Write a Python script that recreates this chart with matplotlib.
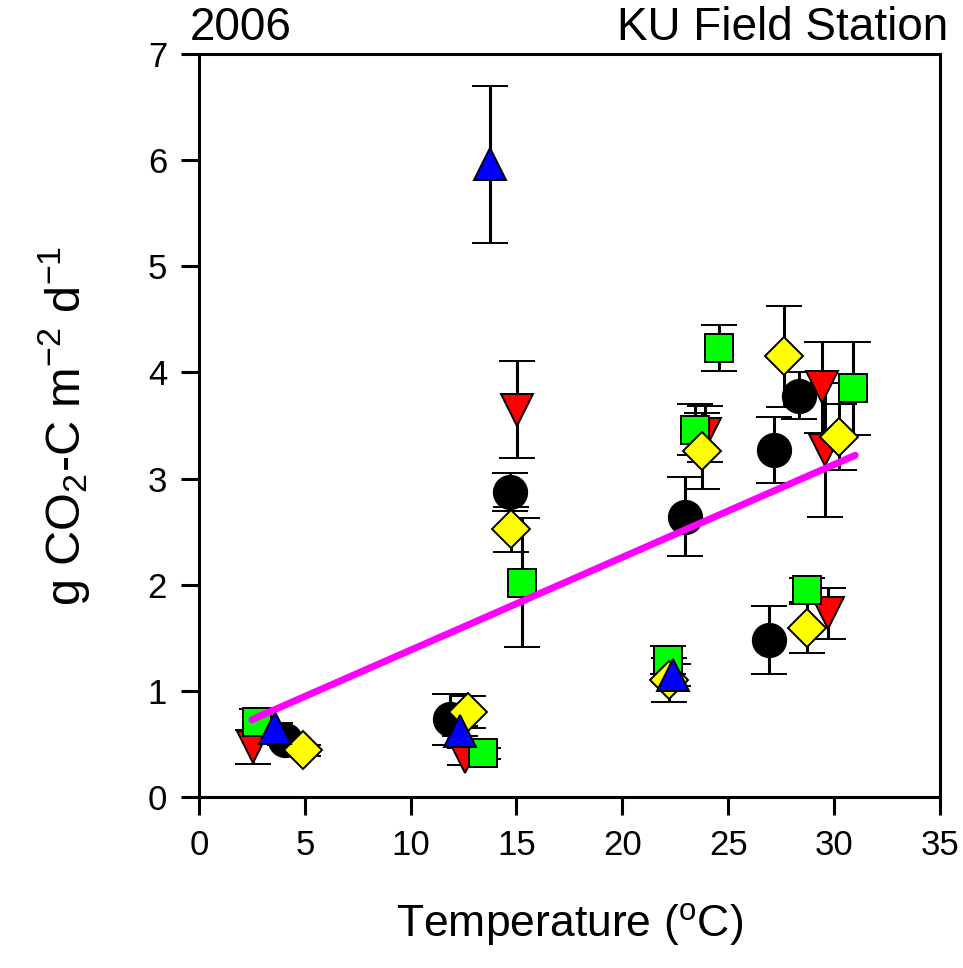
import matplotlib
matplotlib.use('Agg')
import matplotlib.pyplot as plt
import numpy as np

plt.rcParams['font.family'] = ['Liberation Sans', 'DejaVu Sans']
plt.rcParams['mathtext.fontset'] = 'custom'
plt.rcParams['mathtext.rm'] = 'Liberation Sans'
plt.rcParams['mathtext.it'] = 'Liberation Sans:italic'

# soil respiration vs temperature, one series per treatment
black_t = [4.06, 11.86, 14.69, 22.96, 26.93, 27.16, 28.34]
black_f = [0.54, 0.73, 2.87, 2.64, 1.48, 3.27, 3.78]
black_e = [0.05, 0.24, 0.18, 0.37, 0.32, 0.31, 0.22]

red_t = [2.55, 12.56, 15.04, 23.9, 29.45, 29.55, 29.72]
red_f = [0.47, 0.38, 3.65, 3.42, 3.86, 3.27, 1.73]
red_e = [0.16, 0.08, 0.46, 0.26, 0.43, 0.63, 0.24]

green_t = [2.73, 13.42, 15.26, 22.16, 23.43, 24.56, 28.70, 30.88]
green_f = [0.71, 0.41, 2.02, 1.29, 3.46, 4.23, 1.95, 3.85]
green_e = [0.12, 0.05, 0.61, 0.13, 0.24, 0.22, 0.11, 0.44]

yellow_t = [4.91, 12.71, 14.74, 22.2, 23.74, 27.63, 28.72, 30.23]
yellow_f = [0.44, 0.80, 2.52, 1.10, 3.26, 4.15, 1.59, 3.39]
yellow_e = [0.05, 0.15, 0.21, 0.21, 0.36, 0.48, 0.23, 0.31]

blue_t = [3.59, 12.33, 13.75, 22.38]
blue_f = [0.65, 0.62, 5.96, 1.15]
blue_e = [0.05, 0.05, 0.74, 0.10]

# linear regression line
fit_intercept = 0.51
fit_slope = 0.0874
fit_range = [2.5, 31.0]

fig = plt.figure(figsize=(9.63, 9.68), dpi=100)
ax = fig.add_axes([0.2066, 0.1767, 0.7694, 0.7675])

series = [
    (black_t, black_f, black_e, 'o', 'black', 24),
    (red_t, red_f, red_e, 'v', '#ff0000', 23),
    (green_t, green_f, green_e, 's', '#00ff00', 20),
    (yellow_t, yellow_f, yellow_e, 'D', '#ffff00', 19),
    (blue_t, blue_f, blue_e, '^', '#0000ff', 23),
]
for t, f, e, m, c, ms in series:
    ax.errorbar(t, f, yerr=e, fmt=m, color=c, markerfacecolor=c,
                markeredgecolor='black', markeredgewidth=1.4, markersize=ms,
                ecolor='black', elinewidth=2.2, capsize=13, capthick=2.2)

fx = np.array(fit_range)
ax.plot(fx, fit_intercept + fit_slope * fx, color='#ff00ff', lw=5,
        solid_capstyle='round', zorder=10)

ax.set_xlim(0, 35)
ax.set_ylim(0, 7)
ax.set_xticks(range(0, 36, 5))
ax.set_yticks(range(0, 8))
ax.tick_params(direction='out', length=13, width=2.2, labelsize=25, pad=10,
               top=False, right=False)
for s in ax.spines.values():
    s.set_linewidth(2.2)

ax.set_xlabel(r'Temperature ($^{\mathrm{o}}$C)', fontsize=32, labelpad=28)
ax.set_ylabel(r'g CO$_2$-C m$^{-2}$ d$^{-1}$', fontsize=35, labelpad=40)
ax.text(-0.012, 1.005, '2006', transform=ax.transAxes, fontsize=33,
        ha='left', va='bottom')
ax.text(1.011, 1.005, 'KU Field Station', transform=ax.transAxes, fontsize=33,
        ha='right', va='bottom')

fig.savefig('out.png', dpi=100)
